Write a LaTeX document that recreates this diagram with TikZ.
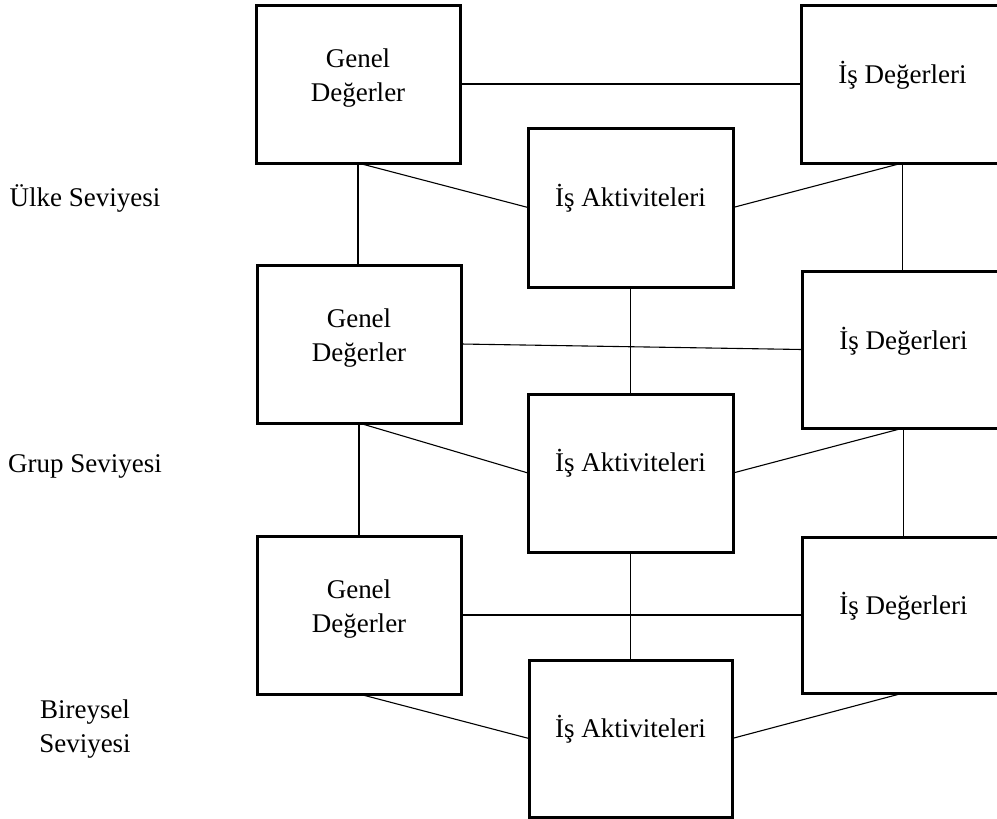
\documentclass[tikz,border=0pt]{standalone}
\usepackage{fontspec}
\setmainfont{Liberation Serif}
\begin{document}
\begin{tikzpicture}[x=1pt,y=-1pt,
  box/.style={draw, line width=3pt, minimum width=204pt, minimum height=158pt, inner sep=0pt, outer sep=0pt},
  txt/.style={align=center, inner sep=0pt, font=\fontsize{27}{34}\selectfont},
  lbl/.style={align=center, inner sep=0pt, font=\fontsize{27}{34}\selectfont},
  conn/.style={line width=1.1pt},
  thick conn/.style={line width=2.4pt}]
\useasboundingbox (0,0) rectangle (997,819);
% boxes
\node[box] (G1) at (358,84) {};
\node[box, minimum width=203pt] (D1) at (902.5,84) {};
\node[box, minimum width=205pt, minimum height=159pt] (A1) at (630.5,207.5) {};
\node[box] (G2) at (359,344) {};
\node[box, minimum width=203pt, minimum height=157pt] (D2) at (903.5,349.5) {};
\node[box, minimum width=205pt] (A2) at (630.5,473) {};
\node[box] (G3) at (359,615) {};
\node[box, minimum width=203pt, minimum height=156pt] (D3) at (903.5,615) {};
\node[box, minimum width=203pt, minimum height=157pt] (A3) at (630.5,738.5) {};
% texts
\node[txt] (tG1) at ([yshift=5.5pt]G1.center) {Genel\\Değerler};
\node[txt] (tD1) at ([yshift=8.5pt]D1.center) {İş Değerleri};
\node[txt] (tA1) at ([yshift=9.5pt]A1.center) {İş Aktiviteleri};
\node[txt] (tG2) at ([yshift=5.5pt]G2.center) {Genel\\Değerler};
\node[txt] (tD2) at ([yshift=8.5pt]D2.center) {İş Değerleri};
\node[txt] (tA2) at ([yshift=9.5pt]A2.center) {İş Aktiviteleri};
\node[txt] (tG3) at ([yshift=5.5pt]G3.center) {Genel\\Değerler};
\node[txt] (tD3) at ([yshift=8.5pt]D3.center) {İş Değerleri};
\node[txt] (tA3) at ([yshift=9.5pt]A3.center) {İş Aktiviteleri};
% level labels
\node[lbl] (L1) at (85,198) {Ülke Seviyesi};
\node[lbl] (L2) at (85,466) {Grup Seviyesi};
\node[lbl] (L3) at (85,729) {Bireysel\\Seviyesi};
% connectors
\draw[thick conn] (G1.east) -- (D1.west);
\draw[conn] (G1.south) -- (G1.south |- G2.north);
\draw[conn] (G1.south) -- (A1.west);
\draw[conn] (D1.south) -- (A1.east);
\draw[conn] (D1.south) -- (D1.south |- D2.north);
\draw[conn] (G2.east) -- (D2.west);
\draw[conn] (A1.south) -- (A2.north);
\draw[conn] (G2.south) -- (G2.south |- G3.north);
\draw[conn] (G2.south) -- (A2.west);
\draw[conn] (D2.south) -- (A2.east);
\draw[conn] (D2.south) -- (D2.south |- D3.north);
\draw[conn] (G3.east) -- (D3.west);
\draw[conn] (A2.south) -- (A3.north);
\draw[conn] (G3.south) -- (A3.west);
\draw[conn] (D3.south) -- (A3.east);
\end{tikzpicture}
\end{document}
